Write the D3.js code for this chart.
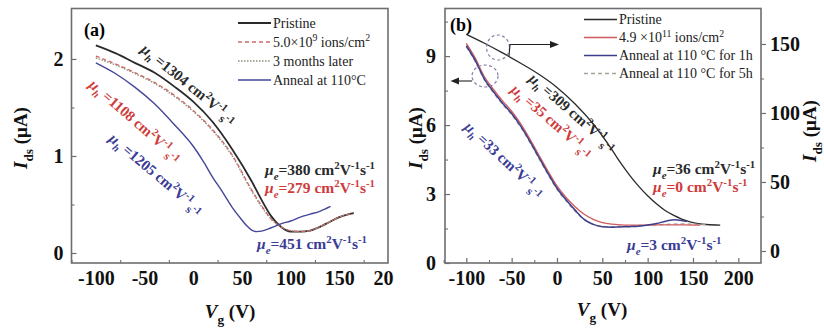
<!DOCTYPE html>
<html><head><meta charset="utf-8">
<script src="https://cdn.jsdelivr.net/npm/d3@7/dist/d3.min.js"></script>
<style>
body{margin:0;background:#fff}
svg{display:block}
</style>
</head><body>
<svg id="c" width="824" height="328"></svg>
<script>
// ---------- DATA (panel a) ----------
const aPristineV = [-100,-80,-60,-40,-20,0,20,40,60,70,80,90,100,110,120,130,140,150,160,165];
const aPristineI = [2.14,2.06,1.96,1.86,1.72,1.56,1.35,1.07,0.74,0.55,0.38,0.27,0.22,0.22,0.23,0.27,0.32,0.37,0.40,0.41];
const aIonV = [-100,-80,-60,-40,-20,0,20,40,60,70,80,90,100,110,120,130,140,150,160,165];
const aIonI = [2.03,1.95,1.86,1.76,1.63,1.47,1.27,1.01,0.65,0.49,0.35,0.27,0.23,0.22,0.23,0.27,0.32,0.37,0.40,0.41];
const aMonthsV = [-100,-80,-60,-40,-20,0,20,40,60,70,80,90,100,110,120,130,140,150,160];
const aMonthsI = [2.01,1.94,1.85,1.75,1.62,1.46,1.26,1.00,0.64,0.48,0.35,0.27,0.23,0.22,0.23,0.27,0.32,0.37,0.40];
const aAnnealV = [-100,-80,-60,-40,-20,0,10,20,30,40,50,55,60,65,70,80,90,100,110,120,130,141];
const aAnnealI = [1.96,1.85,1.71,1.54,1.33,1.10,0.95,0.78,0.63,0.47,0.34,0.28,0.235,0.22,0.225,0.26,0.30,0.33,0.37,0.40,0.43,0.48];
const aXTicks = [-100,-50,0,50,100,150,200];
const aYTicks = [0,1,2];
const aLegend = ["Pristine","5.0×10|9| ions/cm|2|","3 months later","Anneal at 110°C"];

// ---------- DATA (panel b) ----------
const bPristineV = [-100,-80,-60,-40,-20,0,20,40,60,70,80,90,100,110,120,130,140,150,165,180];
const bPristineI = [157,150.5,143.5,136,128,118.5,106.5,92,74,64,55,47,40,34,29,25.5,22.5,20.5,19.2,18.8]; // right axis
const bIonV = [-100,-90,-80,-70,-60,-50,-40,-30,-20,-10,0,10,20,30,40,50,60,70,80,100,120,140,158];
const bIonI = [9.55,8.9,8.1,7.55,7.05,6.6,6.05,5.4,4.7,4.0,3.35,2.85,2.45,2.12,1.9,1.76,1.69,1.66,1.65,1.65,1.66,1.66,1.65];
const bAnneal1hV = [-100,-90,-80,-70,-60,-50,-40,-30,-20,-10,0,10,20,30,40,50,60,70,80,90,100,110,120,130,143];
const bAnneal1hI = [9.45,8.8,8.0,7.45,6.95,6.5,5.95,5.3,4.6,3.9,3.25,2.75,2.3,1.9,1.68,1.58,1.56,1.57,1.58,1.6,1.65,1.72,1.82,1.88,1.8];
const bAnneal5hV = [-100,-90,-80,-70,-60,-50,-40,-30,-20,-10,0,10,20,30,40,50,60,70,80,100,120,140,165];
const bAnneal5hI = [9.4,8.75,7.95,7.4,6.9,6.45,5.9,5.25,4.55,3.85,3.2,2.7,2.25,1.88,1.68,1.6,1.58,1.6,1.62,1.64,1.68,1.7,1.66];
const bXTicks = [-100,-50,0,50,100,150,200];
const bYLeftTicks = [0,3,6,9];
const bYRightTicks = [0,50,100,150];
const bLegend = ["Pristine","4.9 ×10|11| ions/cm|2|","Anneal at 110 °C for 1h","Anneal at 110 °C for 5h"];

// ---------- font detection ----------
function hasFont(name){
  const c=document.createElement("canvas").getContext("2d");
  const s="Pristine Anneal 0123456789 mmmwwwlli";
  let diff=false;
  ["monospace","sans-serif"].forEach(base=>{
    c.font="40px "+base; const w0=c.measureText(s).width;
    c.font=`40px "${name}", ${base}`; const w1=c.measureText(s).width;
    if(Math.abs(w1-w0)>0.5) diff=true;
  });
  return diff;
}
const cands=["Liberation Serif","Times New Roman","Tinos","Nimbus Roman","DejaVu Serif","Noto Serif"];
const FONT = (cands.find(hasFont)||"serif");
const FAM = `"${FONT}", serif`;

// ---------- helpers ----------
const svg = d3.select("#c").attr("font-family",FAM);
const FRAME = "#6e6e6e";
const BLK = "#2a2a2a", RED = "#cf3b3b", BLUE = "#3a3c96";
const TICKFS = 20;

function rich(t, parts, size){
  let shift = 0;
  t.attr("font-family",FAM);
  parts.forEach(([s,m])=>{
    let target=0, fs=size;
    if(m==="sub"||m==="subi"){target=size*0.3;fs=size*0.7;}
    if(m==="sup"){target=-size*0.38;fs=size*0.7;}
    if(m==="low"){target=size*0.32;fs=size*0.8;}
    if(m==="lowsup"){target=-size*0.05;fs=size*0.7;}
    const ts=t.append("tspan").text(s).attr("font-size",fs).attr("dy",(target-shift).toFixed(2));
    if(m==="i"||m==="subi") ts.attr("font-style","italic");
    shift=target;
  });
}
function legendParts(str){
  const segs=str.split("|");
  return segs.map((s,i)=>[s, i%2===1?"sup":"n"]);
}
function line(x,y){return d3.line().x(d=>x(d[0])).y(d=>y(d[1])).curve(d3.curveMonotoneX);}
function zip(a,b){return a.map((v,i)=>[v,b[i]]);}
const fmt = d=>String(d);

function frame(x0,x1,y0,y1){
  svg.append("rect").attr("x",x0).attr("y",y0).attr("width",x1-x0).attr("height",y1-y0)
    .attr("fill","none").attr("stroke",FRAME).attr("stroke-width",1.6);
}
function styleAxis(g,fs){
  g.attr("font-family",FAM);
  g.select(".domain").remove();
  g.selectAll(".tick line").attr("stroke",FRAME).attr("stroke-width",1.2);
  g.selectAll("text").attr("font-size",fs).attr("font-weight","bold").attr("fill","#111").attr("font-family",FAM);
}
function minor(g){g.select(".domain").remove();g.selectAll(".tick line").attr("stroke",FRAME).attr("stroke-width",1.1);g.selectAll("text").remove();}

// ================= PANEL A =================
const xA = d3.scaleLinear().domain([-125,200]).range([71.5,388]);
const yA = d3.scaleLinear().domain([-0.103,2.52]).range([263,8.5]);

svg.append("clipPath").attr("id","clipA").append("rect").attr("x",0).attr("y",0).attr("width",394).attr("height",328);

let g;
g = svg.append("g").attr("transform","translate(0,263)").attr("clip-path","url(#clipA)")
  .call(d3.axisBottom(xA).tickValues(aXTicks).tickSize(-5).tickPadding(8).tickFormat(fmt));
styleAxis(g,TICKFS);
g = svg.append("g").attr("transform","translate(0,263)")
  .call(d3.axisBottom(xA).tickValues(d3.range(-125,200,25).filter(v=>v%50!==0)).tickSize(-3));
minor(g);
g = svg.append("g").attr("transform","translate(71.5,0)")
  .call(d3.axisLeft(yA).tickValues(aYTicks).tickSize(-5).tickPadding(8).tickFormat(fmt));
styleAxis(g,TICKFS);
g = svg.append("g").attr("transform","translate(71.5,0)")
  .call(d3.axisLeft(yA).tickValues([0.5,1.5]).tickSize(-3));
minor(g);
frame(71.5,388,8.5,263);

// curves
svg.append("path").datum(zip(aPristineV,aPristineI)).attr("d",line(xA,yA))
  .attr("fill","none").attr("stroke",BLK).attr("stroke-width",1.8);
svg.append("path").datum(zip(aMonthsV,aMonthsI)).attr("d",line(xA,yA))
  .attr("fill","none").attr("stroke","#8e8e78").attr("stroke-width",1.4).attr("stroke-dasharray","1.5,1.5");
svg.append("path").datum(zip(aIonV,aIonI)).attr("d",line(xA,yA))
  .attr("fill","none").attr("stroke","#cf6a6a").attr("stroke-width",1.3).attr("stroke-dasharray","4,3");
svg.append("path").datum(zip(aAnnealV,aAnnealI)).attr("d",line(xA,yA))
  .attr("fill","none").attr("stroke","#44469a").attr("stroke-width",1.4);

// legend a
const aLegStyles = [
  {c:BLK,w:2,d:null},{c:"#cf6a6a",w:1.4,d:"4,3"},{c:"#8e8e78",w:1.4,d:"1.5,1.5"},{c:"#44469a",w:1.5,d:null}
];
aLegend.forEach((s,i)=>{
  const yy = 23 + i*19;
  svg.append("line").attr("x1",238).attr("x2",271).attr("y1",yy).attr("y2",yy)
    .attr("stroke",aLegStyles[i].c).attr("stroke-width",aLegStyles[i].w).attr("stroke-dasharray",aLegStyles[i].d);
  const t = svg.append("text").attr("x",273).attr("y",yy+4.5).attr("fill","#222");
  rich(t, legendParts(s), 14);
});

// labels a
svg.append("text").attr("x",84).attr("y",36).attr("font-size",18).attr("font-weight","bold").attr("font-family",FAM).text("(a)");

function rotLabel(x,y,ang,color,num,size){
  const t = svg.append("text").attr("transform",`translate(${x},${y}) rotate(${ang})`)
    .attr("fill",color).attr("font-weight","bold");
  rich(t,[["μ","i"],["h","subi"],[" ="+num+" cm","n"],["2","sup"],["V","n"],["-1","sup"],["s","low"],["-1","lowsup"]],size);
}
function eLabel(x,y,color,num,size){
  const t = svg.append("text").attr("x",x).attr("y",y).attr("fill",color).attr("font-weight","bold");
  rich(t,[["μ","i"],["e","subi"],["="+num+" cm","n"],["2","sup"],["V","n"],["-1","sup"],["s","n"],["-1","sup"]],size);
}
rotLabel(140,51,39,BLK,"1304",15);
rotLabel(88,86,41,RED,"1108",15);
rotLabel(108,140,40,BLUE,"1205",15);
eLabel(265,175,BLK,"380",15.5);
eLabel(265,193,RED,"279",15.5);
eLabel(257,249,BLUE,"451",15.5);

// axis titles a
let t;
t = svg.append("text").attr("transform","translate(27,138) rotate(-90)").attr("text-anchor","middle").attr("font-weight","bold").attr("fill","#111");
rich(t,[["I","i"],["ds","sub"],[" (μA)","n"]],19);
t = svg.append("text").attr("x",230).attr("y",318).attr("text-anchor","middle").attr("font-weight","bold").attr("fill","#111");
rich(t,[["V","i"],["g","sub"],[" (V)","n"]],19);

// ================= PANEL B =================
const xB = d3.scaleLinear().domain([-123.5,225]).range([445,761]);
const yBL = d3.scaleLinear().domain([0,11.07]).range([263,8.5]);
const yBR = d3.scaleLinear().domain([-8.7,175.7]).range([263,8.5]);

g = svg.append("g").attr("transform","translate(0,263)")
  .call(d3.axisBottom(xB).tickValues(bXTicks).tickSize(-5).tickPadding(8).tickFormat(fmt));
styleAxis(g,TICKFS);
g = svg.append("g").attr("transform","translate(0,263)")
  .call(d3.axisBottom(xB).tickValues(d3.range(-125,225,25).filter(v=>v%50!==0)).tickSize(-3));
minor(g);
g = svg.append("g").attr("transform","translate(445,0)")
  .call(d3.axisLeft(yBL).tickValues(bYLeftTicks).tickSize(-5).tickPadding(9).tickFormat(fmt));
styleAxis(g,TICKFS);
g = svg.append("g").attr("transform","translate(445,0)")
  .call(d3.axisLeft(yBL).tickValues([1.5,4.5,7.5,10.5]).tickSize(-3));
minor(g);
g = svg.append("g").attr("transform","translate(761,0)")
  .call(d3.axisRight(yBR).tickValues(bYRightTicks).tickSize(5).tickPadding(4).tickFormat(fmt));
styleAxis(g,TICKFS);
g = svg.append("g").attr("transform","translate(761,0)")
  .call(d3.axisRight(yBR).tickValues([25,75,125]).tickSize(3));
minor(g);
frame(445,761,8.5,263);

svg.append("path").datum(zip(bPristineV,bPristineI)).attr("d",line(xB,yBR))
  .attr("fill","none").attr("stroke",BLK).attr("stroke-width",1.3);
svg.append("path").datum(zip(bAnneal5hV,bAnneal5hI)).attr("d",line(xB,yBL))
  .attr("fill","none").attr("stroke","#9ea69a").attr("stroke-width",1.3).attr("stroke-dasharray","4,3");
svg.append("path").datum(zip(bIonV,bIonI)).attr("d",line(xB,yBL))
  .attr("fill","none").attr("stroke","#d05a5c").attr("stroke-width",1.3);
svg.append("path").datum(zip(bAnneal1hV,bAnneal1hI)).attr("d",line(xB,yBL))
  .attr("fill","none").attr("stroke","#3c3e8c").attr("stroke-width",1.5);

// legend b
const bLegStyles = [
  {c:BLK,w:1.3,d:null},{c:"#d05a5c",w:1.3,d:null},{c:"#3c3e8c",w:1.6,d:null},{c:"#9ea69a",w:1.3,d:"4,3"}
];
bLegend.forEach((s,i)=>{
  const yy = 19.5 + i*18;
  svg.append("line").attr("x1",584).attr("x2",617).attr("y1",yy).attr("y2",yy)
    .attr("stroke",bLegStyles[i].c).attr("stroke-width",bLegStyles[i].w).attr("stroke-dasharray",bLegStyles[i].d);
  const tt = svg.append("text").attr("x",619).attr("y",yy+4.5).attr("fill","#222");
  rich(tt, legendParts(s), 14);
});

svg.append("text").attr("x",450).attr("y",31).attr("font-size",18).attr("font-weight","bold").attr("font-family",FAM).text("(b)");

// ellipses and arrows
const ELC = "#8a7ca6";
svg.append("ellipse").attr("cx",498).attr("cy",47.5).attr("rx",11.5).attr("ry",12.5)
  .attr("fill","none").attr("stroke",ELC).attr("stroke-width",1.2).attr("stroke-dasharray","3,2.5");
svg.append("ellipse").attr("cx",485).attr("cy",76).attr("rx",13).attr("ry",11)
  .attr("fill","none").attr("stroke",ELC).attr("stroke-width",1.2).attr("stroke-dasharray","3,2.5");
svg.append("path").attr("d","M509,56 L510,44.5 L552,44.5").attr("fill","none").attr("stroke","#222").attr("stroke-width",1.1);
svg.append("path").attr("d","M559,44.5 L550,41 L550,48 Z").attr("fill","#222");
svg.append("path").attr("d","M472,81 L457,81").attr("fill","none").attr("stroke","#222").attr("stroke-width",1.1);
svg.append("path").attr("d","M450.5,81 L459,77.5 L459,84.5 Z").attr("fill","#222");

rotLabel(528,80,41,BLK,"309",15);
rotLabel(510,91,41,RED,"35",15);
rotLabel(463.5,128,43,BLUE,"33",15);
eLabel(653,174,BLK,"36",15.5);
eLabel(653,192,RED,"0",15.5);
eLabel(627,250,BLUE,"3",15.5);

t = svg.append("text").attr("transform","translate(422,138) rotate(-90)").attr("text-anchor","middle").attr("font-weight","bold").attr("fill","#111");
rich(t,[["I","i"],["ds","sub"],[" (μA)","n"]],19);
t = svg.append("text").attr("transform","translate(816,131) rotate(-90)").attr("text-anchor","middle").attr("font-weight","bold").attr("fill","#111");
rich(t,[["I","i"],["ds","sub"],[" (μA)","n"]],19);
t = svg.append("text").attr("x",602).attr("y",316).attr("text-anchor","middle").attr("font-weight","bold").attr("fill","#111");
rich(t,[["V","i"],["g","sub"],[" (V)","n"]],19);
</script>
</body></html>
